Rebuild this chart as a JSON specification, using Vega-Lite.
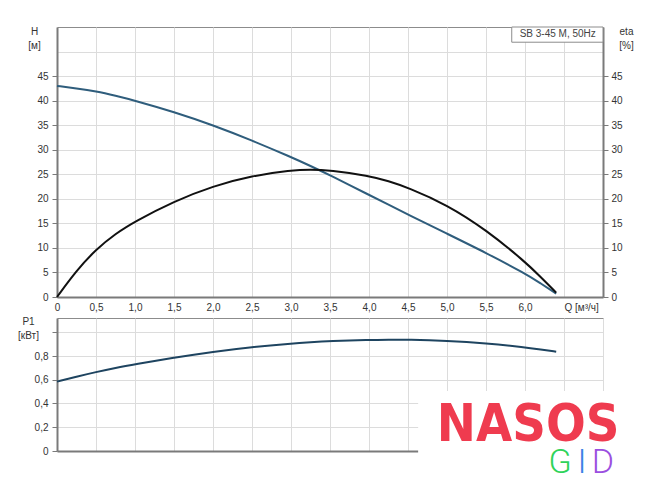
{
  "$schema": "https://vega.github.io/schema/vega-lite/v6.json",
  "background": "white",
  "padding": {"left": 17, "top": 25, "right": 0, "bottom": 0},
  "bounds": "flush",
  "spacing": 21,
  "datasets": {
    "curves": [
      {"Q": 0, "H": 43.0, "eta": 0, "P1": 0.584},
      {"Q": 0.25, "H": 42.5, "eta": 5.4, "P1": 0.626},
      {"Q": 0.5, "H": 41.9, "eta": 9.7, "P1": 0.665},
      {"Q": 0.75, "H": 41.0, "eta": 12.9, "P1": 0.7},
      {"Q": 1.0, "H": 40.0, "eta": 15.4, "P1": 0.73},
      {"Q": 1.5, "H": 37.7, "eta": 19.5, "P1": 0.786},
      {"Q": 2.0, "H": 35.0, "eta": 22.6, "P1": 0.836},
      {"Q": 2.5, "H": 31.9, "eta": 24.7, "P1": 0.876},
      {"Q": 3.0, "H": 28.5, "eta": 25.8, "P1": 0.905},
      {"Q": 3.25, "H": 26.7, "eta": 26.0, "P1": 0.916},
      {"Q": 3.5, "H": 24.8, "eta": 25.8, "P1": 0.925},
      {"Q": 4.0, "H": 20.8, "eta": 24.7, "P1": 0.936},
      {"Q": 4.25, "H": 18.8, "eta": 23.6, "P1": 0.938},
      {"Q": 4.5, "H": 16.8, "eta": 22.3, "P1": 0.938},
      {"Q": 5.0, "H": 12.9, "eta": 18.8, "P1": 0.929},
      {"Q": 5.5, "H": 9.0, "eta": 13.7, "P1": 0.908},
      {"Q": 6.0, "H": 4.8, "eta": 7.2, "P1": 0.874},
      {"Q": 6.2, "H": 2.8, "eta": 4.1, "P1": 0.855},
      {"Q": 6.4, "H": 0.7, "eta": 0.9, "P1": 0.836}
    ]
  },
  "vconcat": [
    {
      "width": 546,
      "height": 270,
      "layer": [
        {
          "data": {"name": "curves"},
          "mark": {"type": "line", "color": "#2f5d7c", "strokeWidth": 2, "interpolate": "basis"},
          "encoding": {
            "x": {
              "field": "Q",
              "type": "quantitative",
              "scale": {"domain": [0, 7], "nice": false},
              "axis": {
                "title": null,
                "values": [0, 0.5, 1, 1.5, 2, 2.5, 3, 3.5, 4, 4.5, 5, 5.5, 6, 6.5, 7],
                "labelExpr": "datum.value == 0 ? '0' : datum.value == 6.5 ? 'Q [м³/ч]' : datum.value == 7 ? '' : replace(format(datum.value, '.1f'), '.', ',')",
                "labelAlign": {"condition": {"test": "datum.value == 6.5", "value": "left"}, "value": "center"},
                "labelFlush": false,
                "labelOverlap": false,
                "ticks": false,
                "tickSize": 0,
                "labelPadding": 5
              }
            },
            "y": {
              "field": "H",
              "type": "quantitative",
              "scale": {"domain": [0, 55], "nice": false},
              "axis": {
                "orient": "left",
                "values": [0, 5, 10, 15, 20, 25, 30, 35, 40, 45, 50],
                "labelExpr": "datum.value >= 50 ? '' : datum.label",
                "tickOpacity": {"condition": {"test": "datum.value >= 50", "value": 0}, "value": 1},
                "title": ["H", "[м]"],
                "titleAngle": 0,
                "titleX": -23,
                "titleY": -1,
                "titleAlign": "center",
                "titleBaseline": "top",
                "titleLineHeight": 14,
                "labelPadding": 4
              }
            }
          }
        },
        {
          "data": {"name": "curves"},
          "mark": {"type": "line", "color": "#111111", "strokeWidth": 2, "interpolate": "basis"},
          "encoding": {
            "x": {"field": "Q", "type": "quantitative", "axis": null},
            "y": {
              "field": "eta",
              "type": "quantitative",
              "scale": {"domain": [0, 55], "nice": false},
              "axis": {
                "orient": "right",
                "grid": false,
                "values": [0, 5, 10, 15, 20, 25, 30, 35, 40, 45],
                "title": ["eta", "[%]"],
                "titleAngle": 0,
                "titleX": 23,
                "titleY": -1,
                "titleAlign": "center",
                "titleBaseline": "top",
                "titleLineHeight": 14,
                "labelPadding": 3
              }
            }
          }
        },
        {
          "data": {"values": [{}]},
          "mark": {"type": "rect", "fill": "white", "stroke": "#8c8c8c", "strokeWidth": 1},
          "encoding": {
            "x": {"datum": 5.83, "type": "quantitative", "axis": null},
            "x2": {"datum": 7},
            "y": {"datum": 51.9, "type": "quantitative", "scale": {"domain": [0, 55], "nice": false}, "axis": null},
            "y2": {"datum": 55}
          }
        },
        {
          "data": {"values": [{}]},
          "mark": {"type": "text", "align": "center", "baseline": "middle", "fontSize": 10, "color": "#444444", "font": "Liberation Sans"},
          "encoding": {
            "x": {"datum": 6.42, "type": "quantitative", "axis": null},
            "y": {"datum": 53.5, "type": "quantitative", "scale": {"domain": [0, 55], "nice": false}, "axis": null},
            "text": {"value": "SB 3-45 M, 50Hz"}
          }
        }
      ],
      "resolve": {"scale": {"y": "independent"}, "axis": {"x": "independent"}}
    },
    {
      "width": 546,
      "height": 133,
      "layer": [
        {
          "data": {"name": "curves"},
          "mark": {"type": "line", "color": "#1e4460", "strokeWidth": 2, "interpolate": "basis"},
          "encoding": {
            "x": {
              "field": "Q",
              "type": "quantitative",
              "scale": {"domain": [0, 7], "nice": false},
              "axis": {
                "title": null,
                "values": [0, 0.5, 1, 1.5, 2, 2.5, 3, 3.5, 4, 4.5, 5, 5.5, 6, 6.5, 7],
                "labels": false,
                "ticks": false,
                "tickSize": 0
              }
            },
            "y": {
              "field": "P1",
              "type": "quantitative",
              "scale": {"domain": [0, 1.12], "nice": false},
              "axis": {
                "values": [0, 0.2, 0.4, 0.6, 0.8, 1.0],
                "labelExpr": "datum.value == 0 ? '0' : datum.value >= 1 ? '' : replace(format(datum.value, '.1f'), '.', ',')",
                "labelOverlap": false,
                "title": ["P1", "[кВт]"],
                "titleAngle": 0,
                "titleX": -29,
                "titleY": -2,
                "titleAlign": "center",
                "titleBaseline": "top",
                "titleLineHeight": 14,
                "labelPadding": 4
              }
            }
          }
        },
        {
          "data": {"values": [{}]},
          "mark": {"type": "rect", "fill": "white"},
          "encoding": {
            "x": {"datum": 4.63, "type": "quantitative", "axis": null},
            "x2": {"datum": 7.6},
            "y": {"datum": 0.505, "type": "quantitative", "axis": null},
            "y2": {"datum": -0.3}
          }
        },
        {
          "data": {"values": [{}]},
          "mark": {"type": "text", "align": "center", "baseline": "alphabetic", "fontSize": 52, "fontWeight": "bold", "font": "DejaVu Sans Condensed", "color": "#ef3b4f"},
          "encoding": {
            "x": {"datum": 6.04, "type": "quantitative", "axis": null},
            "y": {"datum": 0.084, "type": "quantitative", "axis": null},
            "text": {"value": "NASOS"}
          }
        },
        {
          "data": {"values": [{}]},
          "mark": {"type": "text", "align": "center", "baseline": "alphabetic", "fontSize": 34, "fontWeight": 300, "font": "Roboto", "color": "#2fd35a"},
          "encoding": {
            "x": {"datum": 6.45, "type": "quantitative", "axis": null},
            "y": {"datum": -0.185, "type": "quantitative", "axis": null},
            "text": {"value": "G"}
          }
        },
        {
          "data": {"values": [{}]},
          "mark": {"type": "text", "align": "center", "baseline": "alphabetic", "fontSize": 34, "fontWeight": 300, "font": "Roboto", "color": "#3b82e6"},
          "encoding": {
            "x": {"datum": 6.73, "type": "quantitative", "axis": null},
            "y": {"datum": -0.185, "type": "quantitative", "axis": null},
            "text": {"value": "I"}
          }
        },
        {
          "data": {"values": [{}]},
          "mark": {"type": "text", "align": "center", "baseline": "alphabetic", "fontSize": 34, "fontWeight": 300, "font": "Roboto", "color": "#9b4fe0"},
          "encoding": {
            "x": {"datum": 7.0, "type": "quantitative", "axis": null},
            "y": {"datum": -0.185, "type": "quantitative", "axis": null},
            "text": {"value": "D"}
          }
        }
      ],
      "resolve": {"axis": {"x": "independent", "y": "independent"}}
    }
  ],
  "config": {
    "font": "Liberation Sans",
    "view": {"stroke": "#8c8c8c", "strokeWidth": 1},
    "axis": {
      "labelFont": "Liberation Sans",
      "labelFontSize": 10,
      "labelColor": "#333333",
      "labelOverlap": false,
      "labelBound": false,
      "titleFont": "Liberation Sans",
      "titleFontSize": 10,
      "titleFontWeight": "normal",
      "titleColor": "#333333",
      "domainColor": "#7a7a7a",
      "domainWidth": 2,
      "tickColor": "#7a7a7a",
      "tickWidth": 1,
      "tickSize": 5,
      "gridColor": "#dcdcdc",
      "gridWidth": 1
    }
  }
}
